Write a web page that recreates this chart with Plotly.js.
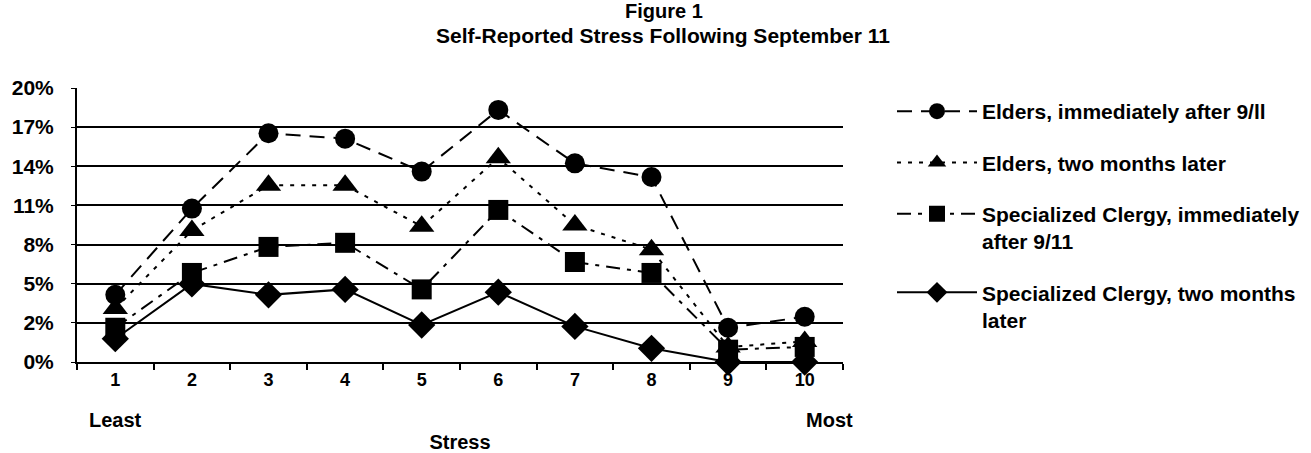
<!DOCTYPE html>
<html>
<head>
<meta charset="utf-8">
<script src="https://cdn.plot.ly/plotly-3.0.1.min.js"></script>
<style>html,body{margin:0;padding:0;background:#fff;}#chart{width:1311px;height:453px;}</style>
</head>
<body>
<div id="chart"></div>
<script>
const categories = ["1","2","3","4","5","6","7","8","9","10"];
const eldersImmediate = [4.9, 11.2, 16.7, 16.3, 13.9, 18.4, 14.5, 13.5, 2.5, 3.3];
const eldersTwoMonths = [3.9, 9.6, 12.9, 12.9, 9.9, 14.9, 10.0, 8.2, 1.1, 1.5];
const clergyImmediate = [2.5, 6.5, 8.4, 8.7, 5.3, 11.1, 7.3, 6.5, 0.9, 1.1];
const clergyTwoMonths = [1.7, 5.7, 4.9, 5.3, 2.7, 5.1, 2.6, 1.0, 0.0, 0.0];
const seriesNames = [
  "Elders, immediately after 9/ll",
  "Elders, two months later",
  "Specialized Clergy, immediately<br>after 9/11",
  "Specialized Clergy, two months<br>later"
];
const yTickLabels = ["0%","2%","5%","8%","11%","14%","17%","20%"];
const yTickValues = yTickLabels.map((_, i) => i * 20 / 7);
const endLabels = [["1", "Least"], ["10", "Most"]];
const titleLines = ["Figure 1", "Self-Reported Stress Following September 11"];

const font = "Liberation Sans, Arial, sans-serif";
const seriesData = [eldersImmediate, eldersTwoMonths, clergyImmediate, clergyTwoMonths];
const styles = [
  {dash: "15px,9px", symbol: "circle", size: 20},
  {dash: "4px,7px", symbol: "triangle-up", size: 22},
  {dash: "14px,7px,4px,7px", symbol: "square", size: 20},
  {dash: "solid", symbol: "diamond", size: 21}
];
const traces = seriesData.map((vals, i) => ({
  x: categories, y: vals, name: seriesNames[i], type: "scatter", mode: "lines+markers",
  line: {color: "#000", width: 2, dash: styles[i].dash},
  marker: {color: "#000", symbol: styles[i].symbol, size: styles[i].size},
  legendgroup: "g" + i, cliponaxis: false
}));

const plotLeft = 77, plotRight = 843, plotTop = 88, plotBottom = 362;
const plotW = plotRight - plotLeft, plotH = plotBottom - plotTop;
const annotations = endLabels.map(([cat, txt], i) => ({
  x: categories.indexOf(cat), y: 0, xref: "x", yref: "y", yshift: -58, xshift: i === 1 ? 25 : 0,
  text: "<b>" + txt + "</b>", showarrow: false,
  font: {family: font, size: 20, color: "#000"}
}));
annotations.push({
  x: (663 - plotLeft) / plotW, xref: "paper", y: (plotBottom - 35) / plotH, yref: "paper",
  xanchor: "center", yanchor: "middle", showarrow: false,
  text: "<b>" + titleLines[1] + "</b>",
  font: {family: font, size: 21, color: "#000"}
});

const layout = {
  width: 1311, height: 453,
  margin: {l: plotLeft, r: 1311 - plotRight, t: plotTop, b: 453 - plotBottom},
  paper_bgcolor: "#fff", plot_bgcolor: "#fff",
  font: {family: font, color: "#000", size: 18, weight: "bold"},
  title: {
    text: "<b>" + titleLines[0] + "</b>",
    x: 664 / 1311, xanchor: "center", xref: "container",
    y: 1 - 11 / 453, yanchor: "middle", yref: "container",
    font: {family: font, size: 20, color: "#000"}
  },
  xaxis: {
    type: "category", tickson: "boundaries", ticks: "outside", ticklen: 6, tickwidth: 2, tickcolor: "#000",
    showline: true, linecolor: "#000", linewidth: 2, showgrid: false, zeroline: false,
    tickfont: {family: font, size: 18, color: "#000", weight: "bold"},
    title: {text: "<b>Stress</b>", font: {family: font, size: 20, color: "#000"}, standoff: 48},
    range: [-0.5, 9.5]
  },
  yaxis: {
    range: [0, 20], tickvals: yTickValues, ticktext: yTickLabels,
    ticks: "outside", ticklen: 4, tickwidth: 1, tickcolor: "#000", ticklabelstandoff: 13,
    showgrid: true, gridcolor: "#000", gridwidth: 2,
    showline: true, linecolor: "#000", linewidth: 2, zeroline: false,
    tickfont: {family: font, size: 21, color: "#000", weight: "bold"}
  },
  legend: {
    xref: "container", yref: "container", x: 892 / 1311, y: 1 - 91 / 453,
    xanchor: "left", yanchor: "top", traceorder: "grouped", tracegroupgap: 21,
    itemwidth: 80, valign: "top", bgcolor: "rgba(0,0,0,0)", maxheight: 1,
    font: {family: font, size: 21, color: "#000", weight: "bold"}
  },
  annotations: annotations
};

Plotly.newPlot("chart", traces, layout, {displayModeBar: false, staticPlot: true});
</script>
</body>
</html>
